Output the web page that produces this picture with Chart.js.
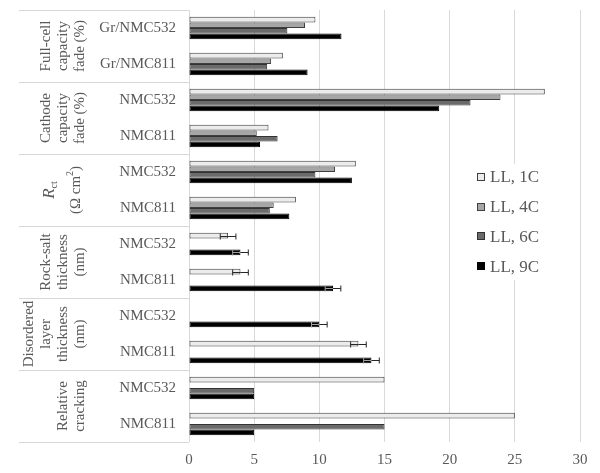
<!DOCTYPE html>
<html>
<head>
<meta charset="utf-8">
<script src="https://cdn.jsdelivr.net/npm/chart.js@4.4.0/dist/chart.umd.min.js"></script>
<style>
  body { margin: 0; background: #fff; }
  #wrap { width: 600px; height: 473px; }
</style>
</head>
<body>
<div id="wrap"><canvas id="myChart"></canvas></div>
<script>
const categories = ['Gr/NMC532', 'Gr/NMC811', 'NMC532', 'NMC811', 'NMC532', 'NMC811',
                    'NMC532', 'NMC811', 'NMC532', 'NMC811', 'NMC532', 'NMC811'];

// two categories per group, group titles from top to bottom
const groupLabels = [
  ['Full-cell', 'capacity', 'fade (%)'],
  ['Cathode', 'capacity', 'fade (%)'],
  ['*R*_{ct}', '(Ω cm^{2})'],
  ['Rock-salt', 'thickness', '(nm)'],
  ['Disordered', 'layer', 'thickness', '(nm)'],
  ['Relative', 'cracking']
];

const seriesNames = ['LL, 1C', 'LL, 4C', 'LL, 6C', 'LL, 9C'];

const ll1C = [9.7, 7.2, 27.3, 6.1, 12.8, 8.2, 3.0, 3.95, null, 13.0, 15, 25];
const ll4C = [8.9, 6.3, 23.9, 5.2, 11.2, 6.5, null, null, null, null, null, null];
const ll6C = [7.55, 6.0, 21.6, 6.8, 9.7, 6.2, null, null, null, null, 5, 15];
const ll9C = [11.7, 9.1, 19.2, 5.45, 12.5, 7.7, 3.95, 11.05, 10.0, 14.0, 5, 5];

const err1C = [null, null, null, null, null, null, 0.6, 0.6, null, 0.6, null, null];
const err9C = [null, null, null, null, null, null, 0.6, 0.6, 0.6, 0.6, null, null];

const xTicks = [0, 5, 10, 15, 20, 25, 30];

const serif = "'Liberation Serif', 'Times New Roman', serif";
const textGray = '#595959';
const lineGray = '#d9d9d9';

function drawRich(ctx, line, size) {
  const parts = line.split(/(\*[^*]+\*|_\{[^}]+\}|\^\{[^}]+\})/).filter(p => p);
  const segs = parts.map(p => {
    if (p.startsWith('*')) return { t: p.slice(1, -1), f: 'italic ' + (size + 2) + 'px ' + serif, dy: 0 };
    if (p.startsWith('_')) return { t: p.slice(2, -1), f: (size - 5) + 'px ' + serif, dy: 4 };
    if (p.startsWith('^')) return { t: p.slice(2, -1), f: (size - 5) + 'px ' + serif, dy: -6 };
    return { t: p, f: size + 'px ' + serif, dy: 0 };
  });
  let total = 0;
  segs.forEach(s => { ctx.font = s.f; s.w = ctx.measureText(s.t).width; total += s.w; });
  let x = -total / 2;
  ctx.textAlign = 'left';
  segs.forEach(s => { ctx.font = s.f; ctx.fillText(s.t, x, s.dy); x += s.w; });
}

const tablePlugin = {
  id: 'table',
  afterDraw(chart) {
    const ctx = chart.ctx, area = chart.chartArea;
    const h = (area.bottom - area.top) / categories.length;
    ctx.save();
    // separators of the label table
    ctx.strokeStyle = lineGray;
    ctx.lineWidth = 1;
    for (let g = 0; g <= groupLabels.length; g++) {
      const y = Math.round(area.top + g * 2 * h) + 0.5;
      ctx.beginPath();
      ctx.moveTo(19, y);
      ctx.lineTo(area.left, y);
      ctx.stroke();
    }
    // rotated group titles
    ctx.fillStyle = textGray;
    ctx.textBaseline = 'middle';
    groupLabels.forEach((lines, g) => {
      const yc = area.top + (g * 2 + 1) * h;
      const rich = lines.some(l => /[*_^]/.test(l));
      const step = rich ? 26 : 17;
      const last = rich ? 76 : 80;
      lines.forEach((line, i) => {
        const x = last - step * (lines.length - 1 - i);
        ctx.save();
        ctx.translate(x, yc);
        ctx.rotate(-Math.PI / 2);
        drawRich(ctx, line, 15);
        ctx.restore();
      });
    });
    // legend
    ctx.fillStyle = '#fff';
    ctx.fillRect(470, 164, 80, 116);
    chart.data.datasets.forEach((ds, i) => {
      const y = 177 + i * 29.7;
      ctx.fillStyle = ds.backgroundColor;
      ctx.fillRect(477, Math.round(y) - 4, 8, 8);
      ctx.strokeStyle = ds.borderColor;
      ctx.strokeRect(477.5, Math.round(y) - 3.5, 7, 7);
      ctx.fillStyle = textGray;
      ctx.font = '17px ' + serif;
      ctx.textAlign = 'left';
      ctx.textBaseline = 'middle';
      ctx.fillText(ds.label, 490, y + 1);
    });
    ctx.restore();
  }
};

const errorBarPlugin = {
  id: 'errorBars',
  afterDatasetsDraw(chart) {
    const ctx = chart.ctx, xs = chart.scales.x;
    ctx.save();
    ctx.lineWidth = 1;
    chart.data.datasets.forEach((ds, di) => {
      if (!ds.errors) return;
      const meta = chart.getDatasetMeta(di);
      ds.errors.forEach((e, i) => {
        const v = ds.data[i];
        if (e == null || v == null) return;
        const el = meta.data[i];
        const y = Math.round(el.y) + 0.5;
        const x0 = xs.getPixelForValue(v - e);
        const xm = xs.getPixelForValue(v);
        const x1 = xs.getPixelForValue(v + e);
        ctx.strokeStyle = ds.errorInner;
        ctx.beginPath();
        ctx.moveTo(x0, y); ctx.lineTo(xm, y);
        ctx.moveTo(x0, y - 3); ctx.lineTo(x0, y + 3);
        ctx.stroke();
        ctx.strokeStyle = '#262626';
        ctx.beginPath();
        ctx.moveTo(xm, y); ctx.lineTo(x1, y);
        ctx.moveTo(x1, y - 3); ctx.lineTo(x1, y + 3);
        ctx.stroke();
      });
    });
    ctx.restore();
  }
};

const ctx1 = document.getElementById('myChart');
new Chart(ctx1, {
  type: 'bar',
  data: {
    labels: categories,
    datasets: [{
      label: seriesNames[0],
      data: ll1C,
      errors: err1C,
      errorInner: '#262626',
      backgroundColor: '#ececec',
      borderColor: '#3f3f3f'
    }, {
      label: seriesNames[1],
      data: ll4C,
      backgroundColor: '#a6a6a6',
      borderColor: '#404040'
    }, {
      label: seriesNames[2],
      data: ll6C,
      backgroundColor: '#6b6b6b',
      borderColor: '#333333'
    }, {
      label: seriesNames[3],
      data: ll9C,
      errors: err9C,
      errorInner: '#a0a0a0',
      backgroundColor: '#000000',
      borderColor: '#000000'
    }]
  },
  options: {
    indexAxis: 'y',
    responsive: true,
    maintainAspectRatio: false,
    animation: false,
    layout: { padding: { top: 10, right: 20, left: 0, bottom: 0 } },
    datasets: {
      bar: {
        categoryPercentage: 0.62,
        barPercentage: 1,
        borderWidth: 1,
        borderSkipped: false
      }
    },
    scales: {
      x: {
        min: 0,
        max: 30,
        afterBuildTicks: s => { s.ticks = xTicks.map(v => ({ value: v })); },
        afterFit: s => { s.height = 31; },
        grid: { color: lineGray, drawTicks: false },
        border: { display: false },
        ticks: { padding: 9, color: textGray, font: { family: serif, size: 15 } }
      },
      y: {
        afterFit: s => { s.width = 189; s.paddingTop = 0; s.paddingBottom = 0; },
        grid: { display: false, drawTicks: false },
        border: { display: false },
        ticks: { autoSkip: false, padding: 13, color: textGray, font: { family: serif, size: 15 } }
      }
    },
    plugins: {
      legend: { display: false },
      tooltip: { enabled: false }
    }
  },
  plugins: [errorBarPlugin, tablePlugin]
});
</script>
</body>
</html>
